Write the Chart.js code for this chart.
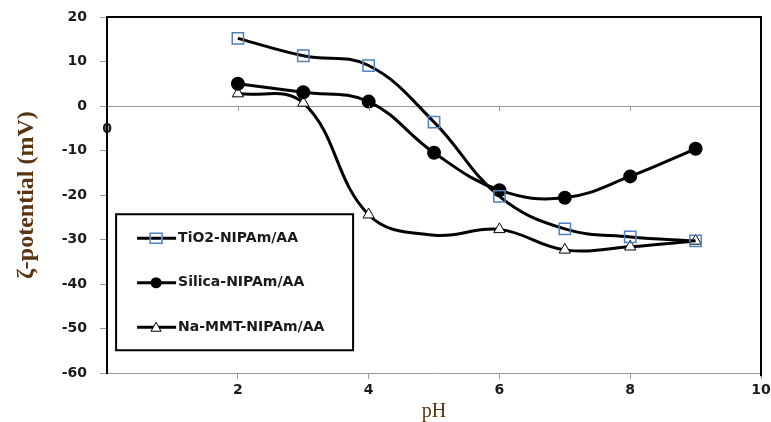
<!DOCTYPE html>
<html lang="en">
<head>
  <title>Zeta potential vs pH</title>
  <script type="text/javascript" src="https://cdn.jsdelivr.net/npm/chart.js"></script>
  <style>
    html, body { margin: 0; padding: 0; background: #fff; }
    #wrap { width: 771px; height: 422px; }
  </style>
</head>
<body>
<div id="wrap"><canvas id="c"></canvas></div>

<script>
  // values
  const phValues = [2, 3, 4, 5, 6, 7, 8, 9];
  const tio2Values = [15.2, 11.3, 9.1, -3.6, -20.3, -27.6, -29.4, -30.3];
  const silicaValues = [5.0, 3.1, 1.0, -10.5, -18.9, -20.6, -15.8, -9.6];
  const mmtValues = [2.8, 0.7, -24.4, -29.0, -27.7, -32.3, -31.6, -30.3];
  const mmtMarkers = [6.5, 6.5, 6.5, 0, 6.5, 6.5, 6.5, 6.5]; // no marker drawn at pH 5
  const seriesNames = ['TiO2-NIPAm/AA', 'Silica-NIPAm/AA', 'Na-MMT-NIPAm/AA'];
  const xTicks = [2, 4, 6, 8, 10];

  const toPoints = vals => phValues.map((x, i) => ({ x: x, y: vals[i] }));

  const tickFont = { family: 'DejaVu Sans', weight: 'bold', size: 14 };
  const titleColor = '#5a3310';

  // frame, zero-line ticks, stray "0" label and the boxed legend
  const decor = {
    id: 'decor',
    afterDraw(chart) {
      const ctx = chart.ctx;
      const a = chart.chartArea;
      const xs = chart.scales.x, ys = chart.scales.y;
      ctx.save();

      // tick marks hanging under the zero line
      const y0 = ys.getPixelForValue(0);
      ctx.strokeStyle = '#999';
      ctx.lineWidth = 1;
      xTicks.forEach(v => {
        const px = Math.round(xs.getPixelForValue(v)) + 0.5;
        ctx.beginPath();
        ctx.moveTo(px, y0);
        ctx.lineTo(px, y0 + 5);
        ctx.stroke();
      });

      // top and right frame
      ctx.strokeStyle = '#000';
      ctx.lineWidth = 2;
      ctx.beginPath();
      ctx.moveTo(a.left, a.top);
      ctx.lineTo(a.right, a.top);
      ctx.lineTo(a.right, a.bottom + 3);
      ctx.stroke();

      // the misplaced "0" on the left axis
      ctx.fillStyle = '#1a1a1a';
      ctx.font = 'bold 14px "DejaVu Sans"';
      ctx.textAlign = 'center';
      ctx.textBaseline = 'middle';
      ctx.fillText('0', xs.getPixelForValue(0), ys.getPixelForValue(-5.2));

      // legend box
      const bx = a.left + 9, by = ys.getPixelForValue(-24.3);
      const bw = 237, bh = 136;
      ctx.fillStyle = '#fff';
      ctx.fillRect(bx, by, bw, bh);
      ctx.strokeStyle = '#000';
      ctx.lineWidth = 2;
      ctx.strokeRect(bx, by, bw, bh);

      chart.data.datasets.forEach((ds, i) => {
        const ly = by + 24 + i * 44.5;
        const lx0 = bx + 21, lx1 = bx + 60, mx = bx + 40;
        ctx.strokeStyle = '#000';
        ctx.lineWidth = 3;
        ctx.beginPath();
        ctx.moveTo(lx0, ly);
        ctx.lineTo(lx1, ly);
        ctx.stroke();
        if (i === 0) {
          ctx.fillStyle = '#fff';
          ctx.fillRect(mx - 6, ly - 5, 12, 10);
          ctx.strokeStyle = '#4f81bd';
          ctx.lineWidth = 1.5;
          ctx.strokeRect(mx - 6, ly - 5, 12, 10);
          ctx.strokeStyle = '#000';
          ctx.lineWidth = 3;
          ctx.beginPath();
          ctx.moveTo(mx - 5, ly);
          ctx.lineTo(mx + 5, ly);
          ctx.stroke();
        } else if (i === 1) {
          ctx.fillStyle = '#000';
          ctx.beginPath();
          ctx.arc(mx, ly, 5.5, 0, Math.PI * 2);
          ctx.fill();
        } else {
          ctx.fillStyle = '#fff';
          ctx.strokeStyle = '#000';
          ctx.lineWidth = 1;
          ctx.beginPath();
          ctx.moveTo(mx, ly - 5);
          ctx.lineTo(mx + 5, ly + 4);
          ctx.lineTo(mx - 5, ly + 4);
          ctx.closePath();
          ctx.fill();
          ctx.stroke();
        }
        ctx.fillStyle = '#1a1a1a';
        ctx.font = 'bold 14px "DejaVu Sans"';
        ctx.textAlign = 'left';
        ctx.textBaseline = 'middle';
        ctx.fillText(ds.label, bx + 62, ly);
      });
      ctx.restore();
    }
  };

  new Chart(document.getElementById('c'), {
    type: 'line',
    data: {
      datasets: [
        {
          label: seriesNames[0],
          data: toPoints(tio2Values),
          borderColor: '#000',
          borderWidth: 3,
          tension: 0.4,
          pointStyle: 'rect',
          pointRadius: 8,
          pointBorderColor: '#4f81bd',
          pointBorderWidth: 1.5,
          pointBackgroundColor: 'rgba(255,255,255,0)',
        },
        {
          label: seriesNames[1],
          data: toPoints(silicaValues),
          borderColor: '#000',
          borderWidth: 3,
          tension: 0.4,
          pointStyle: 'circle',
          pointRadius: 5.5,
          pointBorderColor: '#000',
          pointBackgroundColor: '#000',
        },
        {
          label: seriesNames[2],
          data: toPoints(mmtValues),
          borderColor: '#000',
          borderWidth: 3,
          tension: 0.4,
          pointStyle: 'triangle',
          pointRadius: mmtMarkers,
          pointBorderColor: '#000',
          pointBorderWidth: 1,
          pointBackgroundColor: '#fff',
        },
      ],
    },
    options: {
      responsive: true,
      maintainAspectRatio: false,
      animation: false,
      layout: { padding: { top: 0, right: 0, left: 12, bottom: 0 } },
      plugins: {
        legend: { display: false },
        tooltip: { enabled: false },
      },
      scales: {
        x: {
          type: 'linear',
          min: 0,
          max: 10,
          afterBuildTicks: scale => { scale.ticks = xTicks.map(v => ({ value: v })); },
          afterFit: scale => { scale.paddingRight = 10; },
          ticks: { font: tickFont, color: '#1a1a1a', padding: 3, maxRotation: 0 },
          grid: { drawOnChartArea: false, tickLength: 6, tickColor: '#999' },
          border: { color: '#999', width: 1 },
          title: {
            display: true,
            text: 'pH',
            color: titleColor,
            font: { family: 'Liberation Serif', size: 20, lineHeight: 1 },
            padding: { top: 0, bottom: 0 },
          },
        },
        y: {
          min: -60,
          max: 20,
          afterFit: scale => { scale.paddingTop = 17; },
          ticks: { stepSize: 10, font: tickFont, color: '#1a1a1a', padding: 13 },
          grid: {
            color: c => (c.tick && c.tick.value === 0 ? '#999' : 'rgba(0,0,0,0)'),
            tickColor: '#999',
            tickLength: 7,
          },
          border: { color: '#000', width: 2 },
          title: {
            display: true,
            text: 'ζ-potential (mV)',
            color: titleColor,
            font: { family: 'Liberation Serif', size: 24, weight: 'bold' },
            padding: { top: 0, bottom: 8 },
          },
        },
      },
    },
    plugins: [decor],
  });
</script>
</body>
</html>
